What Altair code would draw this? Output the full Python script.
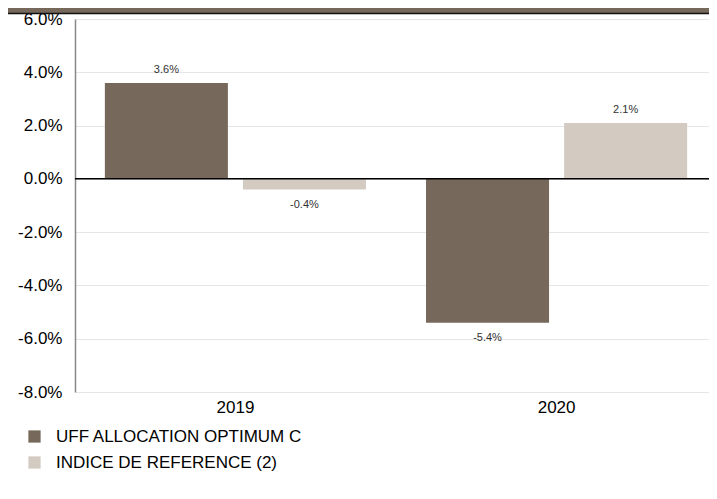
import altair as alt
import pandas as pd

years = ["2019", "2020"]
series = ["UFF ALLOCATION OPTIMUM C", "INDICE DE REFERENCE (2)"]
uff = [3.6, -5.4]
ref = [-0.4, 2.1]
colors = ["#76685a", "#d3cbc2"]
y_ticks = [-8, -6, -4, -2, 0, 2, 4, 6]

rows = []
for i, yr in enumerate(years):
    for s, vals in zip(series, [uff, ref]):
        v = vals[i]
        rows.append({"year": yr, "series": s, "value": v / 100, "label": f"{v:.1f}%"})
df = pd.DataFrame(rows)

W, H = 634, 373
FONT = "Liberation Sans"

x_enc = alt.X(
    "year:N",
    sort=years,
    scale=alt.Scale(range=[0, 642], paddingInner=0.187, paddingOuter=0.093),
    axis=alt.Axis(title=None, labelAngle=0, domain=False, ticks=False,
                  labelFontSize=17, labelPadding=7, labelColor="#000", grid=False),
)
xoff = alt.XOffset("series:N", sort=series,
                   scale=alt.Scale(paddingInner=0.109, paddingOuter=0))
y_enc = alt.Y(
    "value:Q",
    scale=alt.Scale(domain=[-0.08, 0.06], nice=False, zero=False),
    axis=alt.Axis(values=[v / 100 for v in y_ticks], title=None,
                  labelExpr="(datum.value < -0.00001 ? '-' : '') + format(abs(datum.value) * 100, '.1f') + '%'",
                  labelFontSize=17, labelColor="#000", gridColor="#e6e6e6",
                  domainColor="#888", domainWidth=1.5, ticks=False, labelPadding=13),
)
color_enc = alt.Color(
    "series:N", sort=series,
    scale=alt.Scale(domain=series, range=colors),
    legend=alt.Legend(title=None, orient="none", legendX=-49, legendY=409,
                      symbolType="square", symbolSize=150, symbolStrokeWidth=0,
                      labelFontSize=17, labelColor="#000", labelOffset=13,
                      rowPadding=8, direction="vertical", labelLimit=400),
)

base = alt.Chart(df)
bars = base.mark_bar().encode(x=x_enc, xOffset=xoff, y=y_enc, color=color_enc)

pos_text = base.transform_filter("datum.value >= 0").mark_text(
    fontSize=11, color="#333", baseline="bottom", dy=-8
).encode(x=x_enc, xOffset=xoff, y=y_enc, text="label:N")
neg_text = base.transform_filter("datum.value < 0").mark_text(
    fontSize=11, color="#333", baseline="top", dy=9
).encode(x=x_enc, xOffset=xoff, y=y_enc, text="label:N")

zero = alt.Chart(pd.DataFrame({"z": [0]})).mark_rule(color="#000", strokeWidth=1.5).encode(
    y=alt.datum(0), x=alt.value(0), x2=alt.value(W))

strip = alt.Chart(pd.DataFrame({"a": [0]})).mark_rect(color="#76685a", clip=False).encode(
    x=alt.value(-67), x2=alt.value(W), y=alt.value(-11), y2=alt.value(-6))
strip_line = alt.Chart(pd.DataFrame({"a": [0]})).mark_rule(color="#111", strokeWidth=1.5, clip=False).encode(
    x=alt.value(-67), x2=alt.value(W), y=alt.value(-5.5))

chart = alt.layer(bars, zero, pos_text, neg_text, strip, strip_line).properties(
    width=W, height=H,
    autosize=alt.AutoSizeParams(type="none"),
    padding={"left": 67, "top": 11, "right": 0, "bottom": 90},
).configure(font=FONT).configure_view(stroke=None)

chart.save("out.html", embed_options={"renderer": "svg", "actions": False})
